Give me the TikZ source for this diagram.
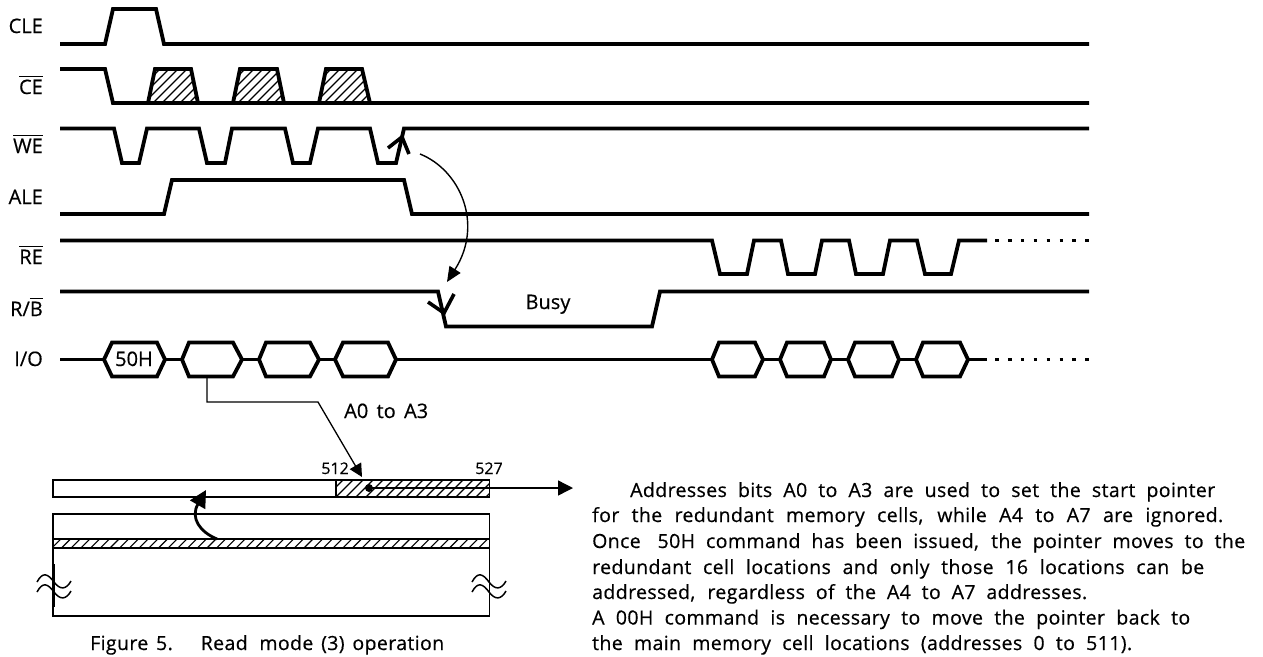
\documentclass[tikz,border=0pt]{standalone}
\usepackage{fontspec}
\setmainfont{Open Sans}[FakeBold=0.5]
\usetikzlibrary{arrows.meta}
\newcommand\ovl[1]{\leavevmode\vbox{\hrule height 0.9pt\kern 3pt\hbox{#1}}}
\newcommand\hatchbox[5]{% x0,y0,x1,y1,spacing
  \begin{scope}
    \clip (#1,#2) rectangle (#3,#4);
    \pgfmathsetmacro\hh{#4-#2}
    \pgfmathtruncatemacro\nn{(#3-#1+40)/#5}
    \foreach \k in {0,...,\nn}
      \draw[hatchline] ({#1-40+\k*#5},#4) -- ({#1-40+\k*#5+\hh},#2);
  \end{scope}}
\tikzset{
  sig/.style={line width=3.8pt,line join=miter,miter limit=3},
  thin box/.style={line width=1.7pt,draw},
  hatchline/.style={line width=1.1pt},
  conn/.style={line width=1.3pt},
  lab/.style={font=\fontsize{20}{20}\selectfont,inner sep=0pt,anchor=base east},
  free/.style={font=\fontsize{20}{20}\selectfont,inner sep=0pt,anchor=base},
  small/.style={font=\fontsize{16}{16}\selectfont,inner sep=0pt,anchor=base},
  body/.style={font=\fontsize{19.5}{19.5}\selectfont\addfontfeatures{LetterSpace=2},inner sep=0pt,anchor=base west},
  dots/.style={line width=3.6pt,dash pattern=on 3.6pt off 9.3pt},
}
\begin{document}
\begin{tikzpicture}[x=1pt,y=-1pt]
\useasboundingbox (0,0) rectangle (1263,656);
% labels
\node[lab] (lcle) at (43,33) {CLE};
\node[lab] (lce) at (43,94) {\ovl{CE}};
\node[lab] (lwe) at (43,153) {\ovl{WE}};
\node[lab] (lale) at (43,204) {ALE};
\node[lab] (lre) at (43,264) {\ovl{RE}};
\node[lab] (lrb) at (43,316) {R/\ovl{B}};
\node[lab] (lio) at (43,366) {I/O};
% hatch of CE
\begin{scope}
  \clip (148,103) -- (155,69) -- (191,69) -- (198,103) -- cycle;
  \hatchbox{148}{69}{198}{103}{9}
\end{scope}
\begin{scope}
  \clip (233,103) -- (240,69) -- (277,69) -- (284,103) -- cycle;
  \hatchbox{233}{69}{284}{103}{9}
\end{scope}
\begin{scope}
  \clip (319,103) -- (326,69) -- (362,69) -- (370,103) -- cycle;
  \hatchbox{319}{69}{370}{103}{9}
\end{scope}
% signals
\draw[sig] (60,44) -- (105,44) -- (113,9) -- (156,9) -- (164,44) -- (1089,44);
\draw[sig] (60,69) -- (105,69) -- (113,103) -- (1089,103);
\draw[sig] (148,103) -- (155,69) -- (191,69) -- (198,103);
\draw[sig] (233,103) -- (240,69) -- (277,69) -- (284,103);
\draw[sig] (319,103) -- (326,69) -- (362,69) -- (370,103);
\draw[sig] (60,128.5) -- (114,128.5) -- (122,163) -- (139,163) -- (147,128.5) -- (199,128.5) -- (207,163) -- (225,163) -- (232,128.5) -- (285,128.5) -- (293,163) -- (310,163) -- (318,128.5) -- (370,128.5) -- (378,163) -- (396,163) -- (404,128.5) -- (1089,128.5);
\draw[sig] (60,214) -- (164,214) -- (172,180) -- (404,180) -- (412,214) -- (1089,214);
\draw[sig] (60,240.5) -- (712,240.5) -- (720,274) -- (747,274) -- (754,240.5) -- (781,240.5) -- (788,274) -- (815,274) -- (822,240.5) -- (849,240.5) -- (856,274) -- (883,274) -- (890,240.5) -- (917,240.5) -- (925,274) -- (951,274) -- (959,240.5) -- (987,240.5);
\draw[dots] (995,240.5) -- (1089,240.5);
\draw[sig] (60,291.5) -- (438,291.5) -- (446,326.5) -- (652,326.5) -- (660,291.5) -- (1089,291.5);
% I/O
\draw[sig] (60,359.5) -- (104,359.5) (165,359.5) -- (182,359.5) (242,359.5) -- (259,359.5) (319,359.5) -- (335,359.5) (396,359.5) -- (712,359.5)
  (763,359.5) -- (780,359.5) (831,359.5) -- (848,359.5) (899,359.5) -- (916,359.5) (968,359.5) -- (987,359.5);
\draw[dots] (995,359.5) -- (1089,359.5);
\foreach \a/\b/\c/\d in {104/112/157/165,182/189/233/242,259/266/310/319,335/343/388/396,712/719/755/763,780/787/824/831,848/855/892/899,916/923/960/968}
  \draw[sig] (\a,359.5) -- (\b,342.5) -- (\c,342.5) -- (\d,359.5) -- (\c,376.5) -- (\b,376.5) -- cycle;
\node[free] (h50) at (134,366) {50H};
\node[free] (busy) at (548,309) {Busy};
% chevrons
\coordinate (wetip) at (402,137);
\draw[line width=3.6pt] (388,148) -- (wetip) -- (409,154);
\coordinate (rbtip) at (444,313);
\draw[line width=3.6pt] (428,302) -- (rbtip) -- (454,294);
% curved arrow
\coordinate (cs) at (420,154);
\coordinate (ce) at (447,282);
\draw[line width=1.4pt,-{Triangle[length=15pt,width=13pt]}] (cs) .. controls (460,170) and (484,224) .. (ce);
% memory map
\draw[thin box,fill=white] (53,480) rectangle (489.5,497);
\hatchbox{336}{480}{489.5}{497}{10}
\draw[thin box] (53,480) rectangle (489.5,497);
\draw[thin box] (336,480) -- (336,497);
\draw[thin box] (53,514) rectangle (489.5,616);
\hatchbox{53}{539}{489.5}{548}{9.7}
\draw[thin box] (53,539) -- (489.5,539) (53,548) -- (489.5,548);
\draw[line width=2.2pt] (53.5,564) -- (53.5,607);
% waves
\coordinate (wl) at (54,582);
\coordinate (wr) at (489,582);
\foreach \w in {wl,wr} \foreach \dy in {0,10}
  \draw[line width=1.5pt] ([shift={(-17,\dy)}]\w) .. controls ([shift={(-11,\dy-11)}]\w) and ([shift={(-6,\dy-8)}]\w) .. ([shift={(0,\dy)}]\w) .. controls ([shift={(6,\dy+8)}]\w) and ([shift={(12,\dy+8)}]\w) .. ([shift={(17,\dy-1)}]\w);
% connector A0 to A3
\coordinate (cstart) at (207,378);
\coordinate (cb) at (207,402);
\coordinate (cc) at (318,402);
\coordinate (ctip) at (362,477);
\draw[conn,-{Triangle[length=13pt,width=13pt]}] (cstart) -- (cb) -- (cc) -- (ctip);
\node[free,anchor=base west] (a03) at (344,418) {\makebox[84pt][s]{A0 to A3}};
\node[small,anchor=base east] (n512) at (349,474) {512};
\node[small] (n527) at (489,474) {527};
% pointer
\coordinate (pdot) at (369,488);
\coordinate (pend) at (573,488);
\fill (pdot) circle (4);
\draw[line width=1.4pt,-{Triangle[length=15pt,width=15pt]}] (pdot) -- (pend);
% thick arrow
\coordinate (as) at (217,539);
\coordinate (at) at (206,490);
\draw[line width=2.8pt,-{Triangle[length=17pt,width=17pt]}] (as) .. controls (200,532) and (190,518) .. (at);
% caption
\node[body] (cap) at (90,650) {\makebox[354pt][s]{Figure 5.\hspace{.7em} Read\hspace{.2em} mode (3) operation}};
% body text
\node[body] (t1) at (630,497) {\makebox[585pt][s]{Addresses bits A0 to A3 are used to set the start pointer}};
\node[body] (t2) at (592,522) {\makebox[631pt][s]{for the redundant memory cells, while A4 to A7 are ignored.}};
\node[body] (t3) at (592,548) {\makebox[653pt][s]{Once\hspace{.3em} 50H command has been issued, the pointer moves to the}};
\node[body] (t4) at (592,574) {\makebox[612pt][s]{redundant cell locations and only those 16 locations can be}};
\node[body] (t5) at (592,599) {\makebox[495pt][s]{addressed, regardless of the A4 to A7 addresses.}};
\node[body] (t6) at (592,624.5) {\makebox[598pt][s]{A 00H command is necessary to move the pointer back to}};
\node[body] (t7) at (592,650) {\makebox[540pt][s]{the main memory cell locations (addresses 0 to 511).}};
\end{tikzpicture}
\end{document}
